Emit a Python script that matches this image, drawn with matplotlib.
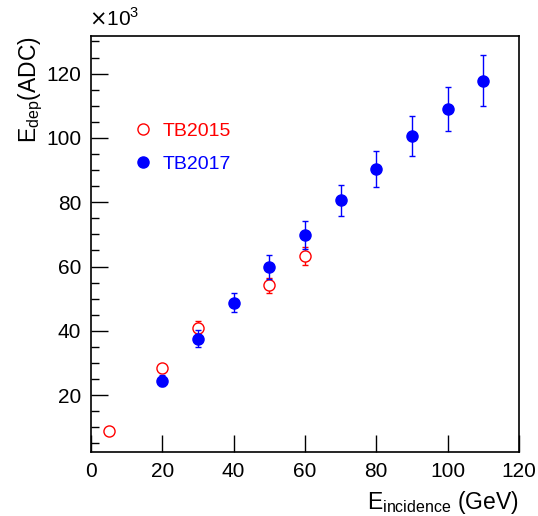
import matplotlib
matplotlib.use("Agg")
import matplotlib.pyplot as plt
from matplotlib.ticker import MultipleLocator
from matplotlib.lines import Line2D

plt.rcParams['font.family'] = ['Liberation Sans', 'DejaVu Sans']

# TB2015 data (red open circles)
e15 = [5, 20, 30, 50, 60]
adc15 = [8.9, 28.3, 41.0, 54.1, 63.2]
err15 = [0.6, 1.2, 2.0, 2.3, 2.8]

# TB2017 data (blue filled circles)
e17 = [20, 30, 40, 50, 60, 70, 80, 90, 100, 110]
adc17 = [24.5, 37.5, 48.8, 59.9, 69.9, 80.6, 90.3, 100.7, 109.0, 117.8]
err17 = [1.7, 2.6, 3.1, 3.8, 4.4, 4.9, 5.5, 6.2, 6.9, 8.0]

fig = plt.figure(figsize=(5.38, 5.16), dpi=100)
ax = fig.add_axes([0.1691, 0.124, 0.7955, 0.8062])

ax.errorbar(e15, adc15, yerr=err15, fmt='o', color='red', mfc='white', mec='red',
            ms=8, mew=1.0, elinewidth=1.0, capsize=2.5, zorder=3)
ax.errorbar(e17, adc17, yerr=err17, fmt='o', color='blue', mfc='blue', mec='blue',
            ms=8, elinewidth=1.0, capsize=2.5, zorder=4)

ax.set_xlim(0, 120)
ax.set_ylim(2.3, 131.7)
ax.xaxis.set_major_locator(MultipleLocator(20))
ax.yaxis.set_major_locator(MultipleLocator(20))
ax.yaxis.set_minor_locator(MultipleLocator(5))
ax.tick_params(axis='both', which='major', direction='in', length=12, width=1.0,
               labelsize=15, pad=7)
ax.tick_params(axis='y', which='minor', direction='in', length=6, width=1.0)
for s in ax.spines.values():
    s.set_linewidth(1.2)

ax.set_xlabel(r'E$_{\mathregular{incidence}}$ (GeV)', fontsize=16.5, loc='right', labelpad=6)
ax.set_ylabel(r'E$_{\mathregular{dep}}$(ADC)', fontsize=16.5, loc='top', labelpad=1)
fig.text(0.166, 0.943, r'$\times$10$^{\mathregular{3}}$', fontsize=15, ha='left', va='bottom')

handles = [Line2D([], [], ls='none', marker='o', ms=8, mfc='white', mec='red'),
           Line2D([], [], ls='none', marker='o', ms=8, mfc='blue', mec='blue')]
leg = ax.legend(handles, ['TB2015', 'TB2017'], loc='upper left',
                bbox_to_anchor=(0.099, 0.793), frameon=False, fontsize=14,
                handlelength=1.0, handletextpad=0.5, labelspacing=0.82,
                borderpad=0, borderaxespad=0)
for txt, c in zip(leg.get_texts(), ['red', 'blue']):
    txt.set_color(c)

fig.savefig('out.png', dpi=100)
